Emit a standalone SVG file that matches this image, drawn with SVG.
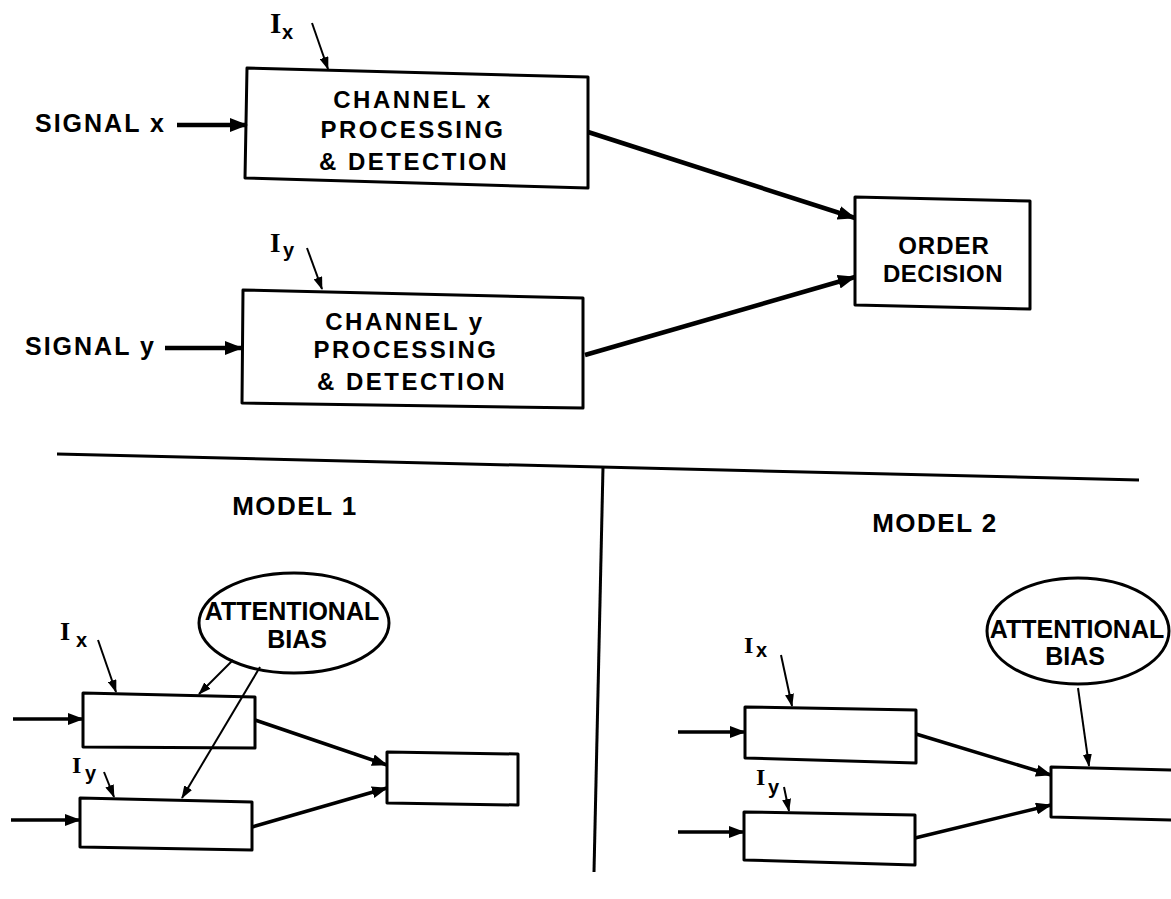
<svg xmlns="http://www.w3.org/2000/svg" width="1171" height="899" viewBox="0 0 1171 899">
<defs>
<style>
.box{fill:#fff;stroke:#000;stroke-width:3;stroke-linejoin:round}
.ell{fill:#fff;stroke:#000;stroke-width:3}
.thick{stroke:#000;stroke-width:4.5;fill:none;marker-end:url(#ah)}
.mid{stroke:#000;stroke-width:3.5;fill:none;marker-end:url(#ah2)}
.thin{stroke:#000;stroke-width:2;fill:none;marker-end:url(#at)}
.rule{stroke:#000;stroke-width:3;fill:none}
.t{font-family:"Liberation Sans",Arial,sans-serif;font-weight:bold;fill:#000}
.bt{font-size:24px;letter-spacing:2.5px;text-anchor:middle}
.sig{font-size:25px;letter-spacing:2px}
.mdl{font-size:26px;letter-spacing:1.5px;text-anchor:middle}
.att{font-size:25px;text-anchor:middle}
.I{font-family:"Liberation Serif","Times New Roman",serif;font-weight:bold;fill:#000}
.sub{font-family:"Liberation Sans",Arial,sans-serif;font-weight:bold;fill:#000;font-size:20px}
</style>
<marker id="ah" markerUnits="userSpaceOnUse" markerWidth="18" markerHeight="14" refX="17" refY="7" orient="auto"><path d="M0,0 L18,7 L0,14 Z" fill="#000"/></marker>
<marker id="ah2" markerUnits="userSpaceOnUse" markerWidth="16" markerHeight="12" refX="15" refY="6" orient="auto"><path d="M0,0 L16,6 L0,12 Z" fill="#000"/></marker>
<marker id="at" markerUnits="userSpaceOnUse" markerWidth="13" markerHeight="9" refX="12" refY="4.5" orient="auto"><path d="M0,0 L13,4.5 L0,9 Z" fill="#000"/></marker>
</defs>
<rect width="1171" height="899" fill="#fff"/>

<g id="dividers">
<line class="rule" x1="57" y1="454" x2="1139" y2="480"/>
<line class="rule" x1="603" y1="467" x2="594" y2="872"/>
</g>

<g id="signal-x">
<text class="t sig" x="35" y="132">SIGNAL x</text>
</g>
<g id="signal-y">
<text class="t sig" x="25" y="355">SIGNAL y</text>
</g>
<g id="label-Ix-top">
<text class="I" x="270" y="33" font-size="29">I</text><text class="sub" x="282" y="39">x</text>
</g>
<g id="label-Iy-top">
<text class="I" x="270" y="252" font-size="27">I</text><text class="sub" x="283" y="257">y</text>
</g>

<g id="channel-x">
<polygon class="box" points="247,68 588,77 588,188 245,178"/>
<text class="t bt" x="413" y="108">CHANNEL x</text>
<text class="t bt" x="413" y="138">PROCESSING</text>
<text class="t bt" x="414" y="170">&amp; DETECTION</text>
</g>

<g id="channel-y">
<polygon class="box" points="243,290 583,298 583,408 242,403"/>
<text class="t bt" x="405" y="330">CHANNEL y</text>
<text class="t bt" x="406" y="358">PROCESSING</text>
<text class="t bt" x="412" y="390">&amp; DETECTION</text>
</g>

<g id="order-decision">
<polygon class="box" points="855,197 1030,201 1030,309 855,305"/>
<text class="t" x="944" y="254" font-size="24" letter-spacing="1" text-anchor="middle">ORDER</text>
<text class="t" x="943" y="282" font-size="24" letter-spacing="0.5" text-anchor="middle">DECISION</text>
</g>

<!-- MODEL 1 -->
<g id="model1-title">
<text class="t mdl" x="295" y="515">MODEL 1</text>
</g>
<g id="model1-bias">
<ellipse class="ell" cx="294" cy="623" rx="95" ry="50"/>
<text class="t att" x="292" y="620">ATTENTIONAL</text>
<text class="t att" x="297" y="648">BIAS</text>
</g>
<g id="model1-Ix">
<text class="I" x="60" y="640" font-size="26">I</text><text class="sub" x="76" y="647">x</text>
</g>
<g id="model1-Iy">
<text class="I" x="72" y="773" font-size="24">I</text><text class="sub" x="85" y="780">y</text>
</g>
<g id="model1-channel-x">
<polygon class="box" points="83,693 255,697 255,748 83,747"/>
</g>
<g id="model1-channel-y">
<polygon class="box" points="80,798 252,802 252,850 80,847"/>
</g>
<g id="model1-decision">
<polygon class="box" points="387,752 518,754 518,805 387,803"/>
</g>

<!-- MODEL 2 -->
<g id="model2-title">
<text class="t mdl" x="935" y="532">MODEL 2</text>
</g>
<g id="model2-bias">
<ellipse class="ell" cx="1078" cy="631" rx="91" ry="53"/>
<text class="t att" x="1077" y="638">ATTENTIONAL</text>
<text class="t att" x="1075" y="665">BIAS</text>
</g>
<g id="model2-Ix">
<text class="I" x="744" y="653" font-size="24">I</text><text class="sub" x="756" y="657">x</text>
</g>
<g id="model2-Iy">
<text class="I" x="756" y="785" font-size="24">I</text><text class="sub" x="768" y="794">y</text>
</g>
<g id="model2-channel-x">
<polygon class="box" points="745,707 916,710 916,763 745,758"/>
</g>
<g id="model2-channel-y">
<polygon class="box" points="744,812 915,815 915,865 744,860"/>
</g>
<g id="model2-decision">
<polygon class="box" points="1051,767 1175,770 1175,820 1051,817"/>
</g>

<g id="connectors">
<!-- top -->
<line class="thin" x1="312" y1="23" x2="328" y2="69"/>
<line class="thick" x1="177" y1="125" x2="247" y2="125"/>
<line class="thin" x1="307" y1="248" x2="322" y2="289"/>
<line class="thick" x1="165" y1="348" x2="242" y2="348"/>
<line class="thick" x1="588" y1="132" x2="855" y2="218"/>
<line class="thick" x1="585" y1="355" x2="855" y2="277"/>
<!-- model 1 -->
<line class="thin" x1="98" y1="640" x2="116" y2="692"/>
<line class="mid" x1="13" y1="719" x2="83" y2="719"/>
<line class="thin" x1="233" y1="660" x2="199" y2="694"/>
<line class="thin" x1="260" y1="667" x2="182" y2="798"/>
<line class="thin" x1="104" y1="772" x2="114" y2="797"/>
<line class="mid" x1="11" y1="820" x2="80" y2="820"/>
<line class="mid" x1="255" y1="720" x2="387" y2="765"/>
<line class="mid" x1="252" y1="827" x2="387" y2="788"/>
<!-- model 2 -->
<line class="thin" x1="781" y1="655" x2="792" y2="706"/>
<line class="mid" x1="678" y1="732" x2="745" y2="732"/>
<line class="mid" x1="916" y1="734" x2="1051" y2="775"/>
<line class="thin" x1="784" y1="787" x2="789" y2="811"/>
<line class="mid" x1="678" y1="832" x2="744" y2="832"/>
<line class="mid" x1="915" y1="838" x2="1051" y2="805"/>
<line class="thin" x1="1078" y1="688" x2="1089" y2="766"/>
</g>
</svg>
